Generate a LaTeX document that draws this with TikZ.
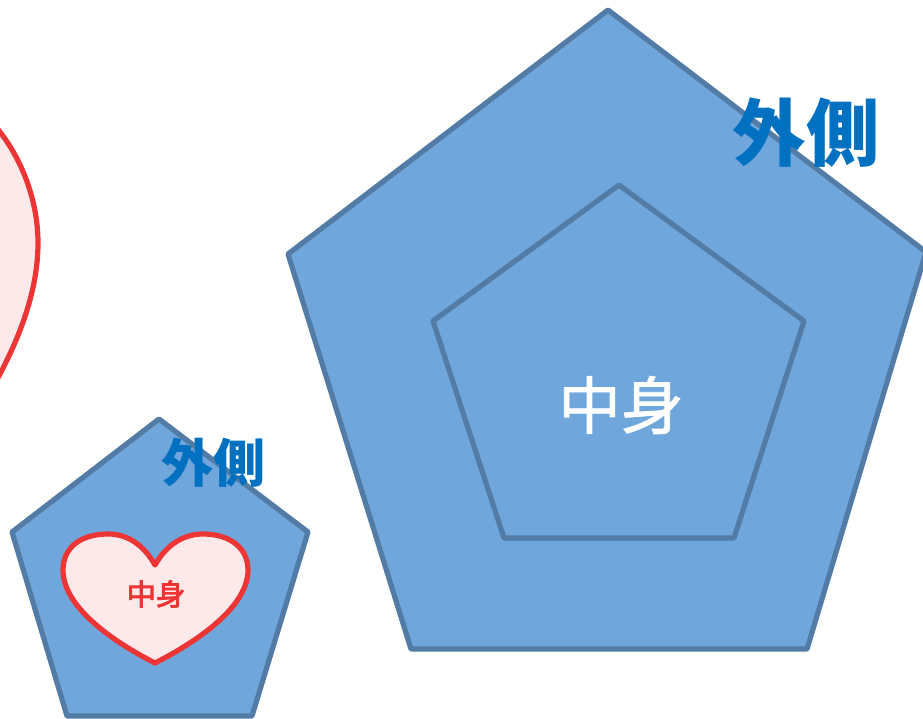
\documentclass[tikz,border=0pt]{standalone}
\usepackage{fontspec}
\usepackage{tikz}
\newfontfamily\cjk{Noto Sans CJK JP}
\newfontfamily\cjkmid[FakeBold=1.2]{Noto Sans CJK JP}
\newfontfamily\cjkheavy[FakeBold=3]{Noto Sans CJK JP}
\definecolor{fillblue}{HTML}{6FA6DC}
\definecolor{edgeblue}{HTML}{527CA6}
\definecolor{textblue}{HTML}{0070C0}
\definecolor{heartred}{HTML}{EE3535}
\definecolor{heartfill}{HTML}{FDE9EA}
\tikzset{
  penta/.style={draw=edgeblue,fill=fillblue,line width=3.9pt,line join=round},
  heart/.style={draw=heartred,fill=heartfill,line width=3.9pt,line join=round},
  outerlabel/.style={text=textblue,inner sep=0pt},
}

\begin{document}
\begin{tikzpicture}[x=0.75pt,y=-0.75pt]
    \useasboundingbox (0,0) rectangle (923,718);
    \clip (0,0) rectangle (923,718);

    % left heart, cut by the frame
    \draw[heart] (-60,90) .. controls (-10,100) and (38,170) .. (38,243)
        .. controls (38,290) and (20,340) .. (-10,392) -- (-60,392) -- cycle;

    % right pentagons
    \draw[penta] (608,10) -- (926,252) -- (807,649) -- (411,649) -- (288,254) -- cycle;
    \draw[penta] (619,185) -- (804,321) -- (734,538) -- (504,538) -- (433,321) -- cycle;
    \node[inner sep=0pt,text=white,font=\cjkmid\fontsize{47}{47}\selectfont] (innerR) at (621,405) {中身};
    \node[outerlabel,font=\cjk\bfseries\fontsize{55}{55}\selectfont] (outerR) at (806,133) {外側};

    % small pentagon with heart
    \draw[penta] (159,419) -- (308,532) -- (252,716) -- (67,716) -- (12,532) -- cycle;
    \draw[heart] (155,565) .. controls (143,544) and (127,534) .. (108,534)
        .. controls (80,534) and (63,548) .. (63,570)
        .. controls (63,606) and (110,640) .. (155,663)
        .. controls (200,640) and (248,606) .. (248,570)
        .. controls (248,548) and (230,534) .. (203,534)
        .. controls (184,534) and (167,544) .. (155,565) -- cycle;
    \node[inner sep=0pt,text=heartred,font=\cjkheavy\fontsize{22}{22}\selectfont] (innerL) at (156,594) {中身};
    \node[outerlabel,font=\cjk\bfseries\fontsize{39}{39}\selectfont] (outerL) at (213,463) {外側};
\end{tikzpicture}
\end{document}
